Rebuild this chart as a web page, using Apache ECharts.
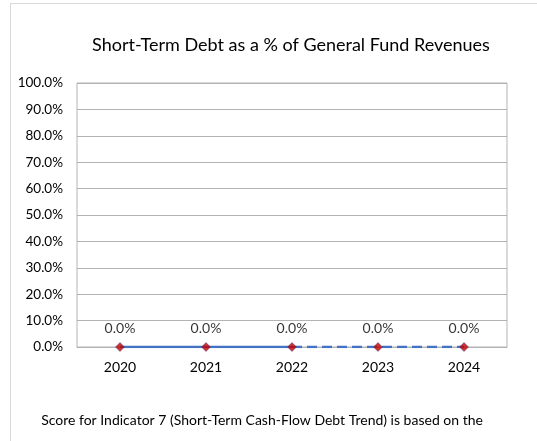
<!DOCTYPE html>
<html>
<head>
<meta charset="utf-8">
<script src="https://cdn.jsdelivr.net/npm/echarts@6/dist/echarts.min.js"></script>
<style>
html, body { margin: 0; padding: 0; background: #fff; }
#frame { position: absolute; left: 10px; top: 3px; width: 600px; height: 500px; border: 1px solid #D9D9D9; }
#chart { position: absolute; left: 0; top: 0; width: 537px; height: 441px; }
</style>
</head>
<body>
<div id="frame"></div>
<div id="chart"></div>
<script>
// data
const years = ['2020', '2021', '2022', '2023', '2024'];
const debtPct = [0, 0, 0, 0, 0];
const lastActual = 2; // 2022 is the last actual year, after that dashed
const yTicks = [0, 0.1, 0.2, 0.3, 0.4, 0.5, 0.6, 0.7, 0.8, 0.9, 1.0];

const font = 'Lato, "Open Sans", sans-serif';
const pct = v => (v * 100).toFixed(1) + '%';

const chart = echarts.init(document.getElementById('chart'));

chart.setOption({
  animation: false,
  title: {
    text: 'Short-Term Debt as a % of General Fund Revenues',
    left: 286,
    textAlign: 'center',
    top: 31,
    textStyle: { fontFamily: font, fontSize: 18, fontWeight: 'normal', color: '#000' }
  },
  graphic: [{
    type: 'text',
    x: 262,
    y: 413,
    style: {
      text: 'Score for Indicator 7 (Short-Term Cash-Flow Debt Trend) is based on the',
      font: '14px ' + font,
      fill: '#000',
      textAlign: 'center'
    }
  }],
  grid: {
    left: 77, top: 83, right: 30, bottom: 94,
    show: true, borderColor: '#B3B3B3', borderWidth: 1
  },
  xAxis: {
    type: 'category',
    data: years,
    boundaryGap: true,
    axisLine: { lineStyle: { color: '#B3B3B3' } },
    axisTick: { show: false },
    axisLabel: { fontFamily: font, fontSize: 14, color: '#000', margin: 13 }
  },
  yAxis: {
    type: 'value',
    min: yTicks[0],
    max: yTicks[yTicks.length - 1],
    interval: 0.1,
    axisLine: { show: false },
    axisTick: { show: false },
    splitLine: { lineStyle: { color: '#B3B3B3' } },
    axisLabel: { fontFamily: font, fontSize: 13.5, color: '#000', margin: 14, formatter: pct }
  },
  series: [
    {
      type: 'line',
      data: debtPct.map((v, i) => i <= lastActual ? v : null),
      showSymbol: false,
      lineStyle: { color: '#4472C4', width: 2.5 },
      z: 2
    },
    {
      type: 'line',
      data: debtPct.map((v, i) => i >= lastActual ? v : null),
      showSymbol: false,
      lineStyle: { color: '#4472C4', width: 2.5, type: [10, 5] },
      z: 2
    },
    {
      type: 'scatter',
      data: debtPct,
      symbol: 'diamond',
      symbolSize: 9,
      itemStyle: { color: '#C00000', borderColor: '#2F3F8F', borderWidth: 0.5 },
      label: {
        show: true, position: 'top', distance: 7,
        fontFamily: font, fontSize: 14, color: '#000',
        formatter: p => pct(p.value)
      },
      z: 3
    }
  ]
});
</script>
</body>
</html>
